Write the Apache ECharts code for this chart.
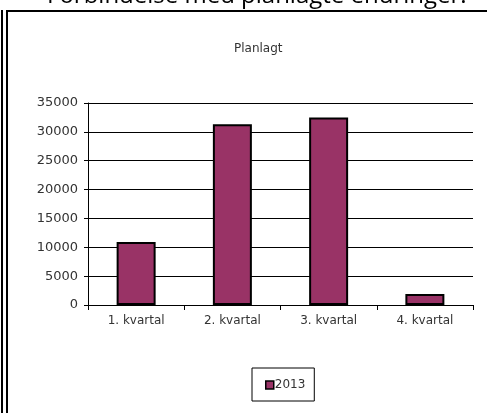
<!DOCTYPE html>
<html>
<head>
<meta charset="utf-8">
<script src="https://cdn.jsdelivr.net/npm/echarts@6/dist/echarts.min.js"></script>
<style>
html,body{margin:0;padding:0;background:#fff;}
#chart{width:487px;height:413px;}
</style>
</head>
<body>
<div id="chart"></div>
<script>
// kvartal data
var kvartaler = ['1. kvartal', '2. kvartal', '3. kvartal', '4. kvartal'];
var planlagt2013 = [10900, 31300, 32500, 1900];
var serieNavn = '2013';

var myChart = echarts.init(document.getElementById('chart'));
var option = {
    animation: false,
    textStyle: {fontFamily: 'DejaVu Sans'},
    title: [{
        text: 'Forbindelse med planlagte endringer.',
        left: 42,
        top: -21,
        textStyle: {fontFamily: 'Open Sans', fontSize: 24, fontWeight: 'normal', color: '#000'}
    }, {
        text: 'Planlagt',
        left: 229,
        top: 38,
        textStyle: {fontFamily: 'DejaVu Sans', fontSize: 12, fontWeight: 'normal', color: '#333'}
    }],
    graphic: [
        {type: 'line', shape: {x1: 2, y1: 10, x2: 2, y2: 413}, style: {stroke: '#000', lineWidth: 2}},
        {type: 'line', shape: {x1: 7, y1: 10, x2: 7, y2: 413}, style: {stroke: '#000', lineWidth: 2}},
        {type: 'line', shape: {x1: 6, y1: 11, x2: 487, y2: 11}, style: {stroke: '#000', lineWidth: 2}}
    ],
    legend: {
        data: [serieNavn],
        left: 252,
        top: 368,
        orient: 'horizontal',
        padding: [11, 9, 10, 13],
        borderColor: '#000',
        borderWidth: 1,
        itemWidth: 8,
        itemHeight: 8,
        itemGap: 0,
        icon: 'rect',
        textStyle: {fontFamily: 'DejaVu Sans', fontSize: 12, color: '#333', padding: [0, 0, 0, -4]},
        itemStyle: {borderColor: '#000', borderWidth: 1.5}
    },
    grid: {left: 88, right: 14, top: 103, bottom: 108},
    xAxis: {
        type: 'category',
        data: kvartaler,
        axisLine: {lineStyle: {color: '#000', width: 1}},
        axisTick: {show: true, length: 5, lineStyle: {color: '#000'}},
        axisLabel: {fontFamily: 'DejaVu Sans', fontSize: 12, color: '#333', margin: 10}
    },
    yAxis: {
        type: 'value',
        min: 0,
        max: 35000,
        interval: 5000,
        axisLine: {show: true, lineStyle: {color: '#000', width: 1}},
        axisTick: {show: true, length: 4, lineStyle: {color: '#000'}},
        splitLine: {lineStyle: {color: '#000', width: 1}},
        axisLabel: {
            fontFamily: 'DejaVu Sans', fontSize: 13, color: '#333', margin: 10,
            formatter: function (v) { return String(v); }
        }
    },
    series: [{
        name: serieNavn,
        type: 'bar',
        data: planlagt2013,
        barWidth: 39,
        itemStyle: {color: '#993366', borderColor: '#000', borderWidth: 2}
    }]
};
myChart.setOption(option);
</script>
</body>
</html>
